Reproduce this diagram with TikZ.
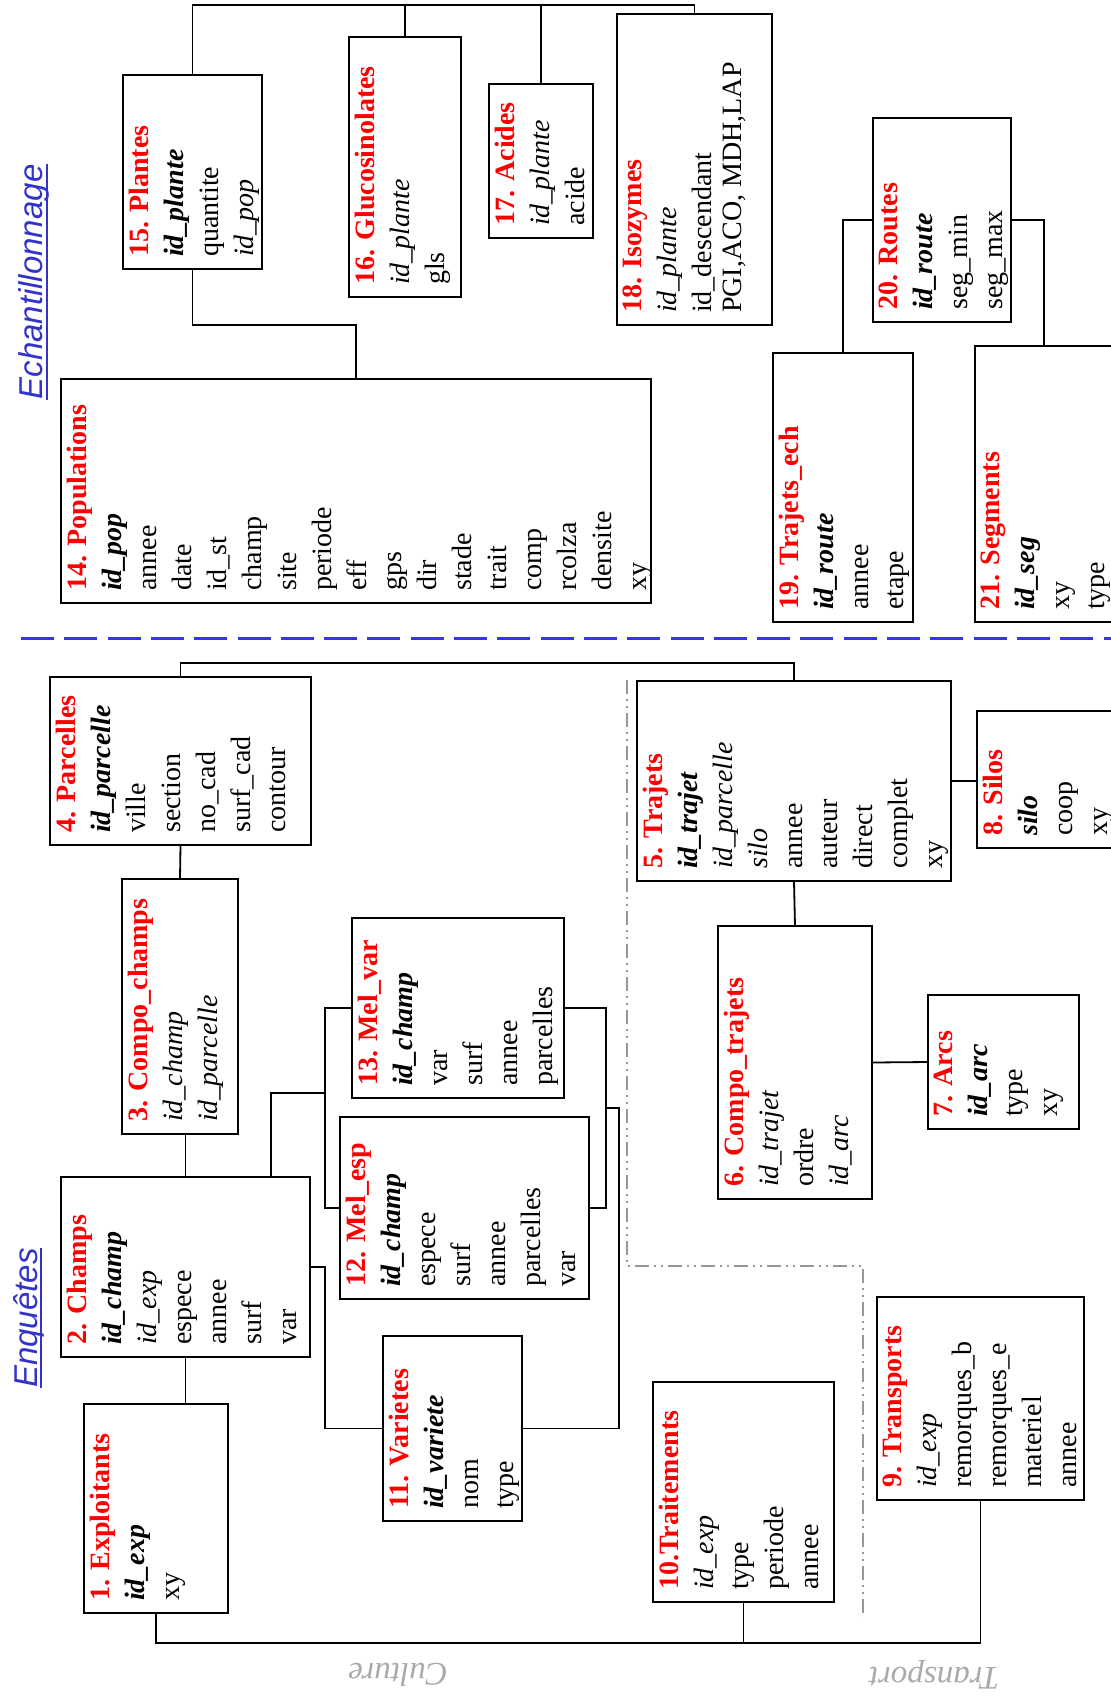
\documentclass[tikz,border=0pt]{standalone}
\usepackage{fontspec}
\setmainfont{Liberation Serif}
\newfontfamily\labelfont{Liberation Sans}
\usetikzlibrary{fit}
\definecolor{TitleRed}{rgb}{1,0,0}
\definecolor{ZoneBlue}{RGB}{51,51,255}
\definecolor{LabelBlue}{RGB}{51,51,204}
\definecolor{ZoneGray}{RGB}{150,150,150}
\definecolor{ThemeGray}{RGB}{170,170,170}
\newcommand{\tname}[1]{\textcolor{TitleRed}{\textbf{#1}}}
\newcommand{\pkey}[1]{\textbf{\textit{#1}}}
\newcommand{\fkey}[1]{\textit{#1}}

\begin{document}
\begin{tikzpicture}[x=1pt,y=-1pt,
  tbl/.style={draw,line width=1.8pt,inner sep=0pt,outer sep=0pt},
  fields/.style={rotate=90,anchor=north west,inner sep=0pt,align=left,
    font=\fontsize{28}{35}\selectfont},
  link/.style={line width=1.8pt},
  zone/.style={ZoneGray,line width=1.5pt,dash pattern=on 14pt off 5pt on 2pt off 5pt on 2pt off 5pt},
  border/.style={ZoneBlue,line width=3pt,dash pattern=on 33pt off 10.3pt},
  area/.style={rotate=90,anchor=base,inner sep=0pt,text=LabelBlue,
    font=\labelfont\itshape\fontsize{33}{40}\selectfont},
  theme/.style={rotate=180,inner sep=0pt,text=ThemeGray,
    font=\itshape\fontsize{33}{40}\selectfont}]

\useasboundingbox (0,0) rectangle (1111,1698);
\clip (0,0) rectangle (1111,1698);

% zones
\draw[border] (21,638) -- (1111,638);
\draw[zone] (627,680) |- (863,1266) -- (863,1618);

\node[area] (ech) at (42,282) {Echantillonnage};
\draw[LabelBlue,line width=1.5pt] ([xshift=5pt]ech.base west) -- ([xshift=5pt]ech.base east);
\node[area] (enq) at (37,1318) {Enquêtes};
\draw[LabelBlue,line width=1.5pt] ([xshift=4pt]enq.base west) -- ([xshift=4pt]enq.base east);
\node[theme] (cult) at (398,1675) {Culture};
\node[theme] (transp-l) at (934,1675) {Transport};

% echantillonnage tables
\node[tbl,fit={(61,379) (651,603)}] (pop) {};
\node[fields] (pop-t) at ([xshift=6pt,yshift=12pt]pop.south west) {\tname{14. Populations}\\ \pkey{id\_pop}\\ annee\\ date\\ id\_st\\ champ\\ site\\ periode\\ eff\\ gps\\ dir\\ stade\\ trait\\ comp\\ rcolza\\ densite\\ xy};

\node[tbl,fit={(123,75) (262,269)}] (plante) {};
\node[fields] (plante-t) at ([xshift=6pt,yshift=12pt]plante.south west) {\tname{15. Plantes}\\ \pkey{id\_plante}\\ quantite\\ \fkey{id\_pop}};

\node[tbl,fit={(349,37) (461,297)}] (gluco) {};
\node[fields] (gluco-t) at ([xshift=6pt,yshift=12pt]gluco.south west) {\tname{16. Glucosinolates}\\ \fkey{id\_plante}\\ gls};

\node[tbl,fit={(489,84) (593,238)}] (acide) {};
\node[fields] (acide-t) at ([xshift=6pt,yshift=12pt]acide.south west) {\tname{17. Acides}\\ \fkey{id\_plante}\\ acide};

\node[tbl,fit={(617,14) (772,325)}] (isoz) {};
\node[fields] (isoz-t) at ([xshift=6pt,yshift=12pt]isoz.south west) {\tname{18. Isozymes}\\ \fkey{id\_plante}\\ id\_descendant\\[-5pt] PGI,ACO, MDH,LAP};

\node[tbl,fit={(773,353) (913,622)}] (trajech) {};
\node[fields] (trajech-t) at ([xshift=6pt,yshift=12pt]trajech.south west) {\tname{19. Trajets\_ech}\\ \pkey{id\_route}\\ annee\\ etape};

\node[tbl,fit={(873,118) (1011,322)}] (route) {};
\node[fields] (route-t) at ([xshift=6pt,yshift=12pt]route.south west) {\tname{20. Routes}\\ \pkey{id\_route}\\ seg\_min\\ seg\_max};

\node[tbl,fit={(975,346) (1113,622)}] (seg) {};
\node[fields] (seg-t) at ([xshift=6pt,yshift=12pt]seg.south west) {\tname{21. Segments}\\ \pkey{id\_seg}\\ xy\\ type};

% enquetes tables
\node[tbl,fit={(84,1404) (228,1613)}] (exploit) {};
\node[fields] (exploit-t) at ([xshift=6pt,yshift=12pt]exploit.south west) {\tname{1. Exploitants}\\ \pkey{id\_exp}\\ xy};

\node[tbl,fit={(61,1177) (310,1357)}] (champ) {};
\node[fields] (champ-t) at ([xshift=6pt,yshift=12pt]champ.south west) {\tname{2. Champs}\\ \pkey{id\_champ}\\ \fkey{id\_exp}\\ espece\\ annee\\ surf\\ var};

\node[tbl,fit={(122,879) (238,1134)}] (cchamp) {};
\node[fields] (cchamp-t) at ([xshift=6pt,yshift=12pt]cchamp.south west) {\tname{3. Compo\_champs}\\ \fkey{id\_champ}\\ \fkey{id\_parcelle}};

\node[tbl,fit={(50,677) (311,845)}] (parc) {};
\node[fields] (parc-t) at ([xshift=6pt,yshift=12pt]parc.south west) {\tname{4. Parcelles}\\ \pkey{id\_parcelle}\\ ville\\ section\\ no\_cad\\ surf\_cad\\ contour};

\node[tbl,fit={(637,681) (951,881)}] (traj) {};
\node[fields] (traj-t) at ([xshift=6pt,yshift=12pt]traj.south west) {\tname{5. Trajets}\\ \pkey{id\_trajet}\\ \fkey{id\_parcelle}\\ \fkey{silo}\\ annee\\ auteur\\ direct\\ complet\\ xy};

\node[tbl,fit={(718,926) (872,1199)}] (ctraj) {};
\node[fields] (ctraj-t) at ([xshift=6pt,yshift=12pt]ctraj.south west) {\tname{6. Compo\_trajets}\\ \fkey{id\_trajet}\\ ordre\\ \fkey{id\_arc}};

\node[tbl,fit={(928,995) (1079,1129)}] (arc) {};
\node[fields] (arc-t) at ([xshift=6pt,yshift=12pt]arc.south west) {\tname{7. Arcs}\\ \pkey{id\_arc}\\ type\\ xy};

\node[tbl,fit={(977,711) (1113,848)}] (silo) {};
\node[fields] (silo-t) at ([xshift=6pt,yshift=12pt]silo.south west) {\tname{8. Silos}\\ \pkey{silo}\\ coop\\ xy};

\node[tbl,fit={(877,1297) (1084,1500)}] (transp) {};
\node[fields] (transp-t) at ([xshift=6pt,yshift=12pt]transp.south west) {\tname{9. Transports}\\ \fkey{id\_exp}\\ remorques\_b\\ remorques\_e\\ materiel\\ annee};

\node[tbl,fit={(653,1382) (834,1602)}] (trait) {};
\node[fields] (trait-t) at ([xshift=6pt,yshift=12pt]trait.south west) {\tname{10.Traitements}\\ \fkey{id\_exp}\\ type\\ periode\\ annee};

\node[tbl,fit={(383,1336) (522,1521)}] (variete) {};
\node[fields] (variete-t) at ([xshift=6pt,yshift=12pt]variete.south west) {\tname{11. Varietes}\\ \pkey{id\_variete}\\ nom\\ type};

\node[tbl,fit={(340,1117) (589,1299)}] (melesp) {};
\node[fields] (melesp-t) at ([xshift=6pt,yshift=12pt]melesp.south west) {\tname{12. Mel\_esp}\\ \pkey{id\_champ}\\ espece\\ surf\\ annee\\ parcelles\\ var};

\node[tbl,fit={(352,918) (564,1098)}] (melvar) {};
\node[fields] (melvar-t) at ([xshift=6pt,yshift=12pt]melvar.south west) {\tname{13. Mel\_var}\\ \pkey{id\_champ}\\ var\\ surf\\ annee\\ parcelles};

% links
\coordinate (top) at (0,5);
\coordinate (bottom) at (0,1643);
\coordinate (lbrk) at (325,1093);
\coordinate (rbrk) at (606,1108);
\coordinate (ctap) at (271,1177);

\draw[link] (plante.north) |- (isoz.north |- top) -- (isoz.north);
\draw[link] (gluco.north) -- (gluco.north |- top);
\draw[link] (acide.north) -- (acide.north |- top);
\draw[link] (plante.south) -- ++(0,56) -| (pop.north);
\draw[link] (route.west) -| (trajech.north);
\draw[link] (route.east) -| (seg.north);

\draw[link] (parc.north) -- ++(0,-14) -| (traj.north);
\draw[link] (parc.south) -- (cchamp.north);
\draw[link] (cchamp.south -| champ.north) -- (champ.north);
\draw[link] (champ.south) -- (champ.south |- exploit.north);
\draw[link] (exploit.south) |- (transp.south |- bottom) -- (transp.south);
\draw[link] (trait.south) -- (trait.south |- bottom);
\draw[link] (traj.south) -- (ctraj.north);
\draw[link] (traj.east) -- (traj.east -| silo.west);
\draw[link] (ctraj.east) -- (arc.west);

\draw[link] (melvar.west) -| (lbrk) |- (melesp.west);
\draw[link] (ctap) |- (lbrk);
\draw[link] (melvar.east) -| (rbrk) |- (melesp.east);
\draw[link] (rbrk) -- ++(13,0) |- (variete.east);
\draw[link] (champ.east) -- ++(15,0) |- (variete.west);

\end{tikzpicture}
\end{document}
